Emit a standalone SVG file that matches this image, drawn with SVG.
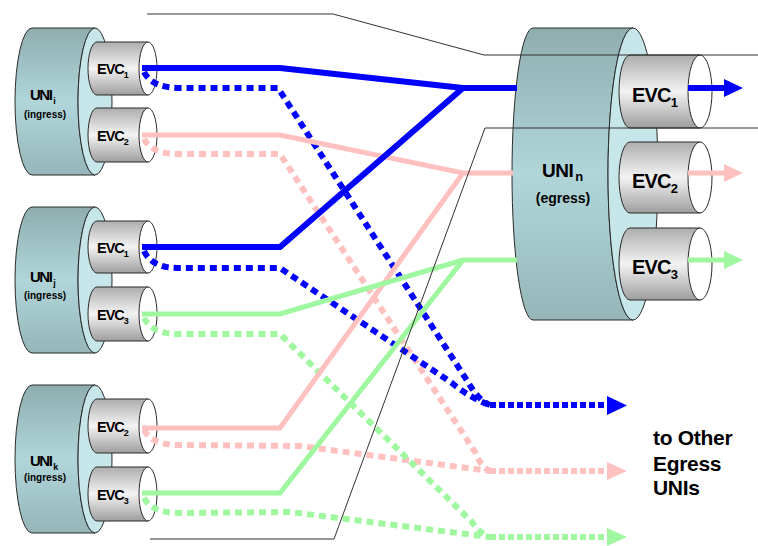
<svg xmlns="http://www.w3.org/2000/svg" width="758" height="546" viewBox="0 0 758 546">
<defs>
<linearGradient id="uniG" x1="0" y1="0" x2="0" y2="1">
<stop offset="0" stop-color="#8fadaf"/><stop offset="0.5" stop-color="#b0d6da"/><stop offset="1" stop-color="#96b6b8"/>
</linearGradient>
<linearGradient id="evcG" x1="0" y1="0" x2="0" y2="1">
<stop offset="0" stop-color="#adadad"/><stop offset="0.5" stop-color="#f3f3f3"/><stop offset="1" stop-color="#9e9e9e"/>
</linearGradient>
</defs>
<style>
.body{fill:url(#uniG);stroke:#2a2a2a;stroke-width:1}
.face{fill:#c6e6e9;stroke:#2a2a2a;stroke-width:1}
.evc{fill:url(#evcG);stroke:#2a2a2a;stroke-width:1}
.end{fill:#fff;stroke:#2a2a2a;stroke-width:1}
text{font-family:"Liberation Sans",Arial,sans-serif;font-weight:bold;fill:#000}
.uni{font-size:15px;letter-spacing:-1.5px}
.ing{font-size:10px}
.el{font-size:14.5px;letter-spacing:-1px}
.sub{font-size:9px}
.eg{font-size:20px;letter-spacing:-0.8px}
.esub{font-size:13px}
.lbl{font-size:21px;letter-spacing:-0.3px}
.c{fill:none;stroke-linejoin:miter}
.blue{stroke:#0000ff;stroke-width:6}
.pink{stroke:#ffc0c0;stroke-width:5}
.green{stroke:#9ff79f;stroke-width:5}
.dot{stroke-width:6;stroke-dasharray:7 5}
.dot2{stroke-width:6;stroke-dasharray:6 3}
.tun{fill:none;stroke:#333;stroke-width:1}
</style>

<g id="uni-i">
<path class="body" d="M95,28 L32,28 A17,73.5 0 0 0 32,175 L95,175 A17,73.5 0 0 1 95,28 Z"/>
<ellipse class="face" cx="95" cy="101.5" rx="17" ry="73.5"/>
<path class="evc" d="M148,42 L97,42 A9,26.5 0 0 0 97,95 L148,95 Z"/>
<ellipse class="end" cx="148" cy="68.5" rx="9" ry="26.5"/>
<path class="evc" d="M148,108 L97,108 A9,27 0 0 0 97,162 L148,162 Z"/>
<ellipse class="end" cx="148" cy="135" rx="9" ry="27"/>
<text class="uni" x="30" y="100">UNI<tspan class="sub" dy="4" dx="2">i</tspan></text>
<text class="ing" x="45" y="118" text-anchor="middle">(ingress)</text>
<text class="el" x="97" y="74">EVC<tspan class="sub" dy="4">1</tspan></text>
<text class="el" x="97" y="141">EVC<tspan class="sub" dy="4">2</tspan></text>
</g>

<g id="uni-j">
<path class="body" d="M95,207 L32,207 A17,73 0 0 0 32,353 L95,353 A17,73 0 0 1 95,207 Z"/>
<ellipse class="face" cx="95" cy="280" rx="17" ry="73"/>
<path class="evc" d="M148,221 L97,221 A9,26 0 0 0 97,273 L148,273 Z"/>
<ellipse class="end" cx="148" cy="247" rx="9" ry="26"/>
<path class="evc" d="M148,287 L97,287 A9,27 0 0 0 97,341 L148,341 Z"/>
<ellipse class="end" cx="148" cy="314" rx="9" ry="27"/>
<text class="uni" x="30" y="282">UNI<tspan class="sub" dy="4" dx="2">j</tspan></text>
<text class="ing" x="45" y="299" text-anchor="middle">(ingress)</text>
<text class="el" x="97" y="253">EVC<tspan class="sub" dy="4">1</tspan></text>
<text class="el" x="97" y="320">EVC<tspan class="sub" dy="4">3</tspan></text>
</g>

<g id="uni-k">
<path class="body" d="M95,385 L32,385 A17,74 0 0 0 32,533 L95,533 A17,74 0 0 1 95,385 Z"/>
<ellipse class="face" cx="95" cy="459" rx="17" ry="74"/>
<path class="evc" d="M148,399 L97,399 A9,27 0 0 0 97,453 L148,453 Z"/>
<ellipse class="end" cx="148" cy="426" rx="9" ry="27"/>
<path class="evc" d="M148,467 L97,467 A9,27 0 0 0 97,521 L148,521 Z"/>
<ellipse class="end" cx="148" cy="494" rx="9" ry="27"/>
<text class="uni" x="30" y="466">UNI<tspan class="sub" dy="4" dx="2">k</tspan></text>
<text class="ing" x="45" y="481" text-anchor="middle">(ingress)</text>
<text class="el" x="97" y="432">EVC<tspan class="sub" dy="4">2</tspan></text>
<text class="el" x="97" y="500">EVC<tspan class="sub" dy="4">3</tspan></text>
</g>

<g id="uni-n">
<path class="body" d="M633,28 L533,28 A21,146 0 0 0 533,320 L633,320 A25,146 0 0 1 633,28 Z"/>
<ellipse class="face" cx="633" cy="174" rx="25" ry="146"/>
<path class="evc" d="M700,55 L630,55 A11,36.5 0 0 0 630,128 L700,128 Z"/>
<ellipse class="end" cx="700" cy="91.5" rx="12" ry="36.5"/>
<path class="evc" d="M700,142 L630,142 A11,35.5 0 0 0 630,213 L700,213 Z"/>
<ellipse class="end" cx="700" cy="177.5" rx="12" ry="35.5"/>
<path class="evc" d="M700,228 L630,228 A11,36 0 0 0 630,300 L700,300 Z"/>
<ellipse class="end" cx="700" cy="264" rx="12" ry="36"/>
<text style="font-size:19px;letter-spacing:-0.5px" x="542" y="177">UNI<tspan class="esub" dy="4" dx="2">n</tspan></text>
<text style="font-size:14px" x="563" y="203" text-anchor="middle">(egress)</text>
<text class="eg" x="632" y="102">EVC<tspan class="esub" dy="5">1</tspan></text>
<text class="eg" x="632" y="188">EVC<tspan class="esub" dy="5">2</tspan></text>
<text class="eg" x="632" y="274">EVC<tspan class="esub" dy="5">3</tspan></text>
</g>

<g id="connectors">
<path class="c pink dot" d="M144,139 Q152,154 178,154 L280,154 L475,452 Q481,467 490,471"/>
<path class="c pink dot" d="M144,430 Q152,445 178,445 L300,446 L490,471"/>
<path class="c green dot" d="M144,318 Q152,334 178,334 L280,334 L472,522 Q480,534 490,537"/>
<path class="c green dot" d="M144,498 Q152,513 180,513 L290,512 L490,537"/>
<path class="c blue dot" d="M144,72 Q152,88 180,88 L278,88 L468,382 Q478,400 490,405"/>
<path class="c blue dot" d="M144,251 Q152,268 178,268 L280,268 L452,383 Q470,398 490,405"/>
<path class="c pink" d="M142,135 L280,135 L463,173 L513,173"/>
<path class="c pink" d="M142,428 L280,428 L463,173"/>
<path class="c green" d="M142,314 L280,314 L463,260 L517,260"/>
<path class="c green" d="M142,493 L280,493 L463,260"/>
<path class="c blue" d="M142,68 L280,68 L463,88 L517,88"/>
<path class="c blue" d="M142,247 L280,247 L463,88"/>
<path class="c blue dot2" d="M490,405 L607,405"/>
<polygon fill="#0000ff" points="607,396 627,405.5 607,415"/>
<path class="c pink dot2" d="M490,471 L607,471"/>
<polygon fill="#ffc0c0" points="607,462 627,471 607,480"/>
<path class="c green dot2" d="M490,537 L607,537"/>
<polygon fill="#9ff79f" points="607,528 627,537 607,546"/>
<path class="c blue" d="M688,88 L726,88"/>
<polygon fill="#0000ff" points="724,79 743,88 724,97"/>
<path class="c pink" d="M688,173 L726,173"/>
<polygon fill="#ffc0c0" points="724,164 743,173 724,182"/>
<path class="c green" d="M688,260 L726,260"/>
<polygon fill="#9ff79f" points="724,251 743,260 724,269"/>
</g>

<g id="tunnel">
<path class="tun" d="M147,14 L333,14 L484,55 L758,55"/>
<path class="tun" d="M758,128 L485,128 L334,539 L150,539"/>
</g>

<g id="label">
<text class="lbl" x="653" y="445">to Other</text>
<text class="lbl" x="653" y="471">Egress</text>
<text class="lbl" x="653" y="495">UNIs</text>
</g>
</svg>
